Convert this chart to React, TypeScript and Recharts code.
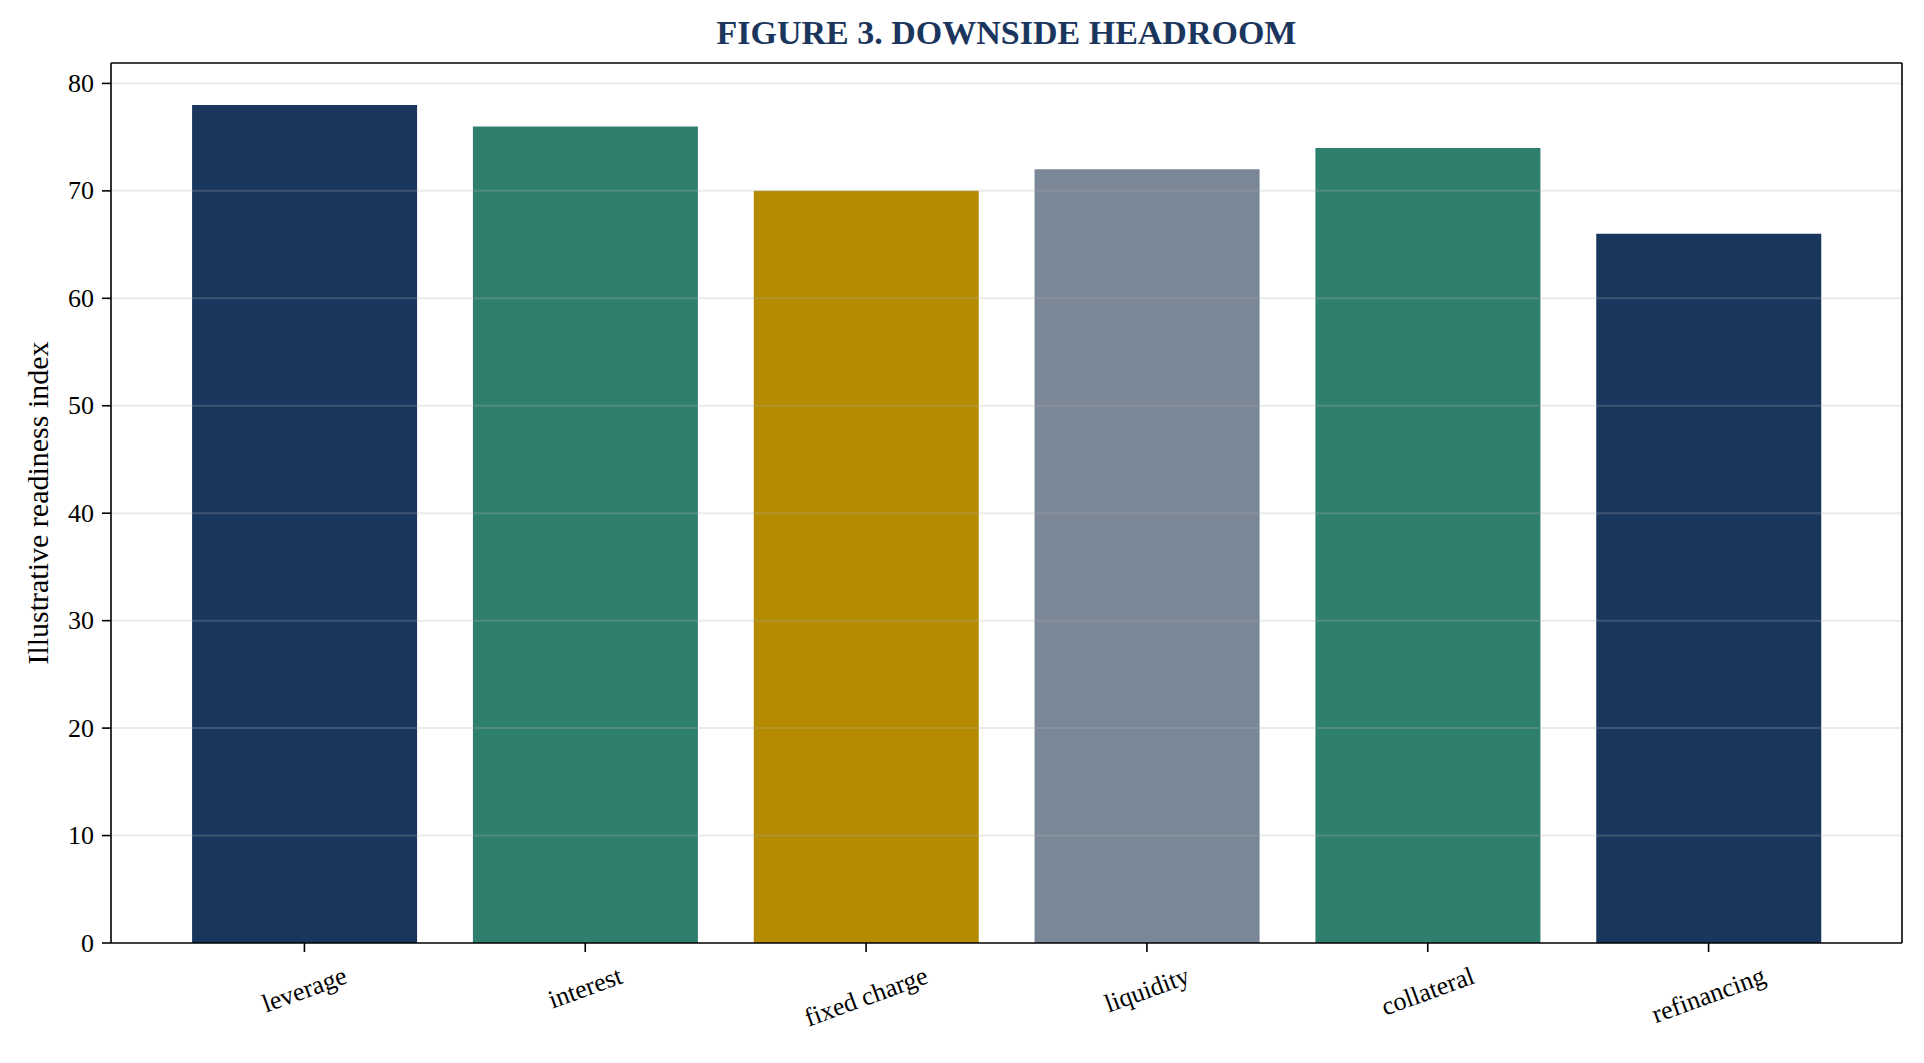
import React from 'react';
import { BarChart, Bar, XAxis, YAxis, Cell, ReferenceLine, Label } from 'recharts';

const CATEGORIES = ['leverage', 'interest', 'fixed charge', 'liquidity', 'collateral', 'refinancing'];
const VALUES = [78, 76, 70, 72, 74, 66];
const Y_TICKS = [0, 10, 20, 30, 40, 50, 60, 70, 80];
const GRID_VALUES = [10, 20, 30, 40, 50, 60, 70, 80];
const BAR_COLORS = ['#19365d', '#2f7f6f', '#b38a00', '#7a8797', '#2f7f6f', '#19365d'];

const data = CATEGORIES.map((c, i) => ({ category: c, value: VALUES[i] }));

const FONT = "'Liberation Serif', 'Times New Roman', Times, serif";
const TICK_FS = 26;
const W = 1924;
const H = 1063;

let ctx: CanvasRenderingContext2D | null = null;
function measure(text: string): number {
  try {
    if (!ctx) ctx = document.createElement('canvas').getContext('2d');
    if (ctx) {
      ctx.font = `${TICK_FS}px ${FONT}`;
      return ctx.measureText(text).width;
    }
  } catch (e) {}
  return text.length * TICK_FS * 0.42;
}

const XTick = (props: any) => {
  const { x, y, payload } = props;
  const label = String(payload.value);
  const w = measure(label);
  const h = TICK_FS * 1.12;
  const rad = (20 * Math.PI) / 180;
  const rh = w * Math.sin(rad) + h * Math.cos(rad);
  const cy = y + 9 + rh / 2;
  return (
    <text
      transform={`translate(${x},${cy}) rotate(-20)`}
      textAnchor="middle"
      dominantBaseline="central"
      fontFamily={FONT}
      fontSize={TICK_FS}
      fill="#000"
    >
      {label}
    </text>
  );
};

const YTick = (props: any) => {
  const { x, y, payload } = props;
  return (
    <text x={x} y={y} textAnchor="end" dominantBaseline="central" fontFamily={FONT} fontSize={TICK_FS} fill="#000">
      {payload.value}
    </text>
  );
};

export default function App() {
  return (
    <div style={{ position: 'absolute', left: 0, top: 0, width: W, height: H, background: '#fff' }}>
      <div
        style={{
          position: 'absolute',
          left: 111,
          top: 13,
          width: 1791,
          textAlign: 'center',
          fontFamily: FONT,
          fontWeight: 'bold',
          fontSize: 34,
          lineHeight: '40px',
          color: '#1b365d',
        }}
      >
        FIGURE 3. DOWNSIDE HEADROOM
      </div>
      <BarChart
        width={W}
        height={H}
        data={data}
        margin={{ top: 62, right: 21, bottom: 0, left: 0 }}
        barCategoryGap="10%"
      >
        <XAxis
          dataKey="category"
          height={120}
          padding={{ left: 53, right: 53 }}
          tickSize={9}
          tickMargin={0}
          tick={<XTick />}
          axisLine={{ stroke: '#000', strokeWidth: 1.6 }}
          tickLine={{ stroke: '#000', strokeWidth: 1.6 }}
          interval={0}
        />
        <XAxis
          xAxisId="top"
          dataKey="category"
          orientation="top"
          height={1}
          tick={false}
          tickLine={false}
          axisLine={{ stroke: '#000', strokeWidth: 1.6 }}
        />
        <YAxis
          width={111}
          domain={[0, 81.9]}
          ticks={Y_TICKS}
          tickSize={9}
          tickMargin={8}
          tick={<YTick />}
          axisLine={{ stroke: '#000', strokeWidth: 1.6 }}
          tickLine={{ stroke: '#000', strokeWidth: 1.6 }}
          allowDataOverflow
        >
          <Label
            content={() => (
              <text
                transform={`translate(37,503) rotate(-90)`}
                textAnchor="middle"
                dominantBaseline="central"
                fontFamily={FONT}
                fontSize={30}
                fill="#000"
              >
                Illustrative readiness index
              </text>
            )}
          />
        </YAxis>
        <YAxis
          yAxisId="right"
          orientation="right"
          width={1}
          domain={[0, 81.9]}
          tick={false}
          tickLine={false}
          axisLine={{ stroke: '#000', strokeWidth: 1.6 }}
        />
        <Bar dataKey="value" isAnimationActive={false}>
          {data.map((d, i) => (
            <Cell key={d.category} fill={BAR_COLORS[i]} />
          ))}
        </Bar>
        {GRID_VALUES.map((v) => (
          <ReferenceLine key={v} y={v} stroke="#b0b0b0" strokeOpacity={0.25} strokeWidth={2} />
        ))}
      </BarChart>
    </div>
  );
}
